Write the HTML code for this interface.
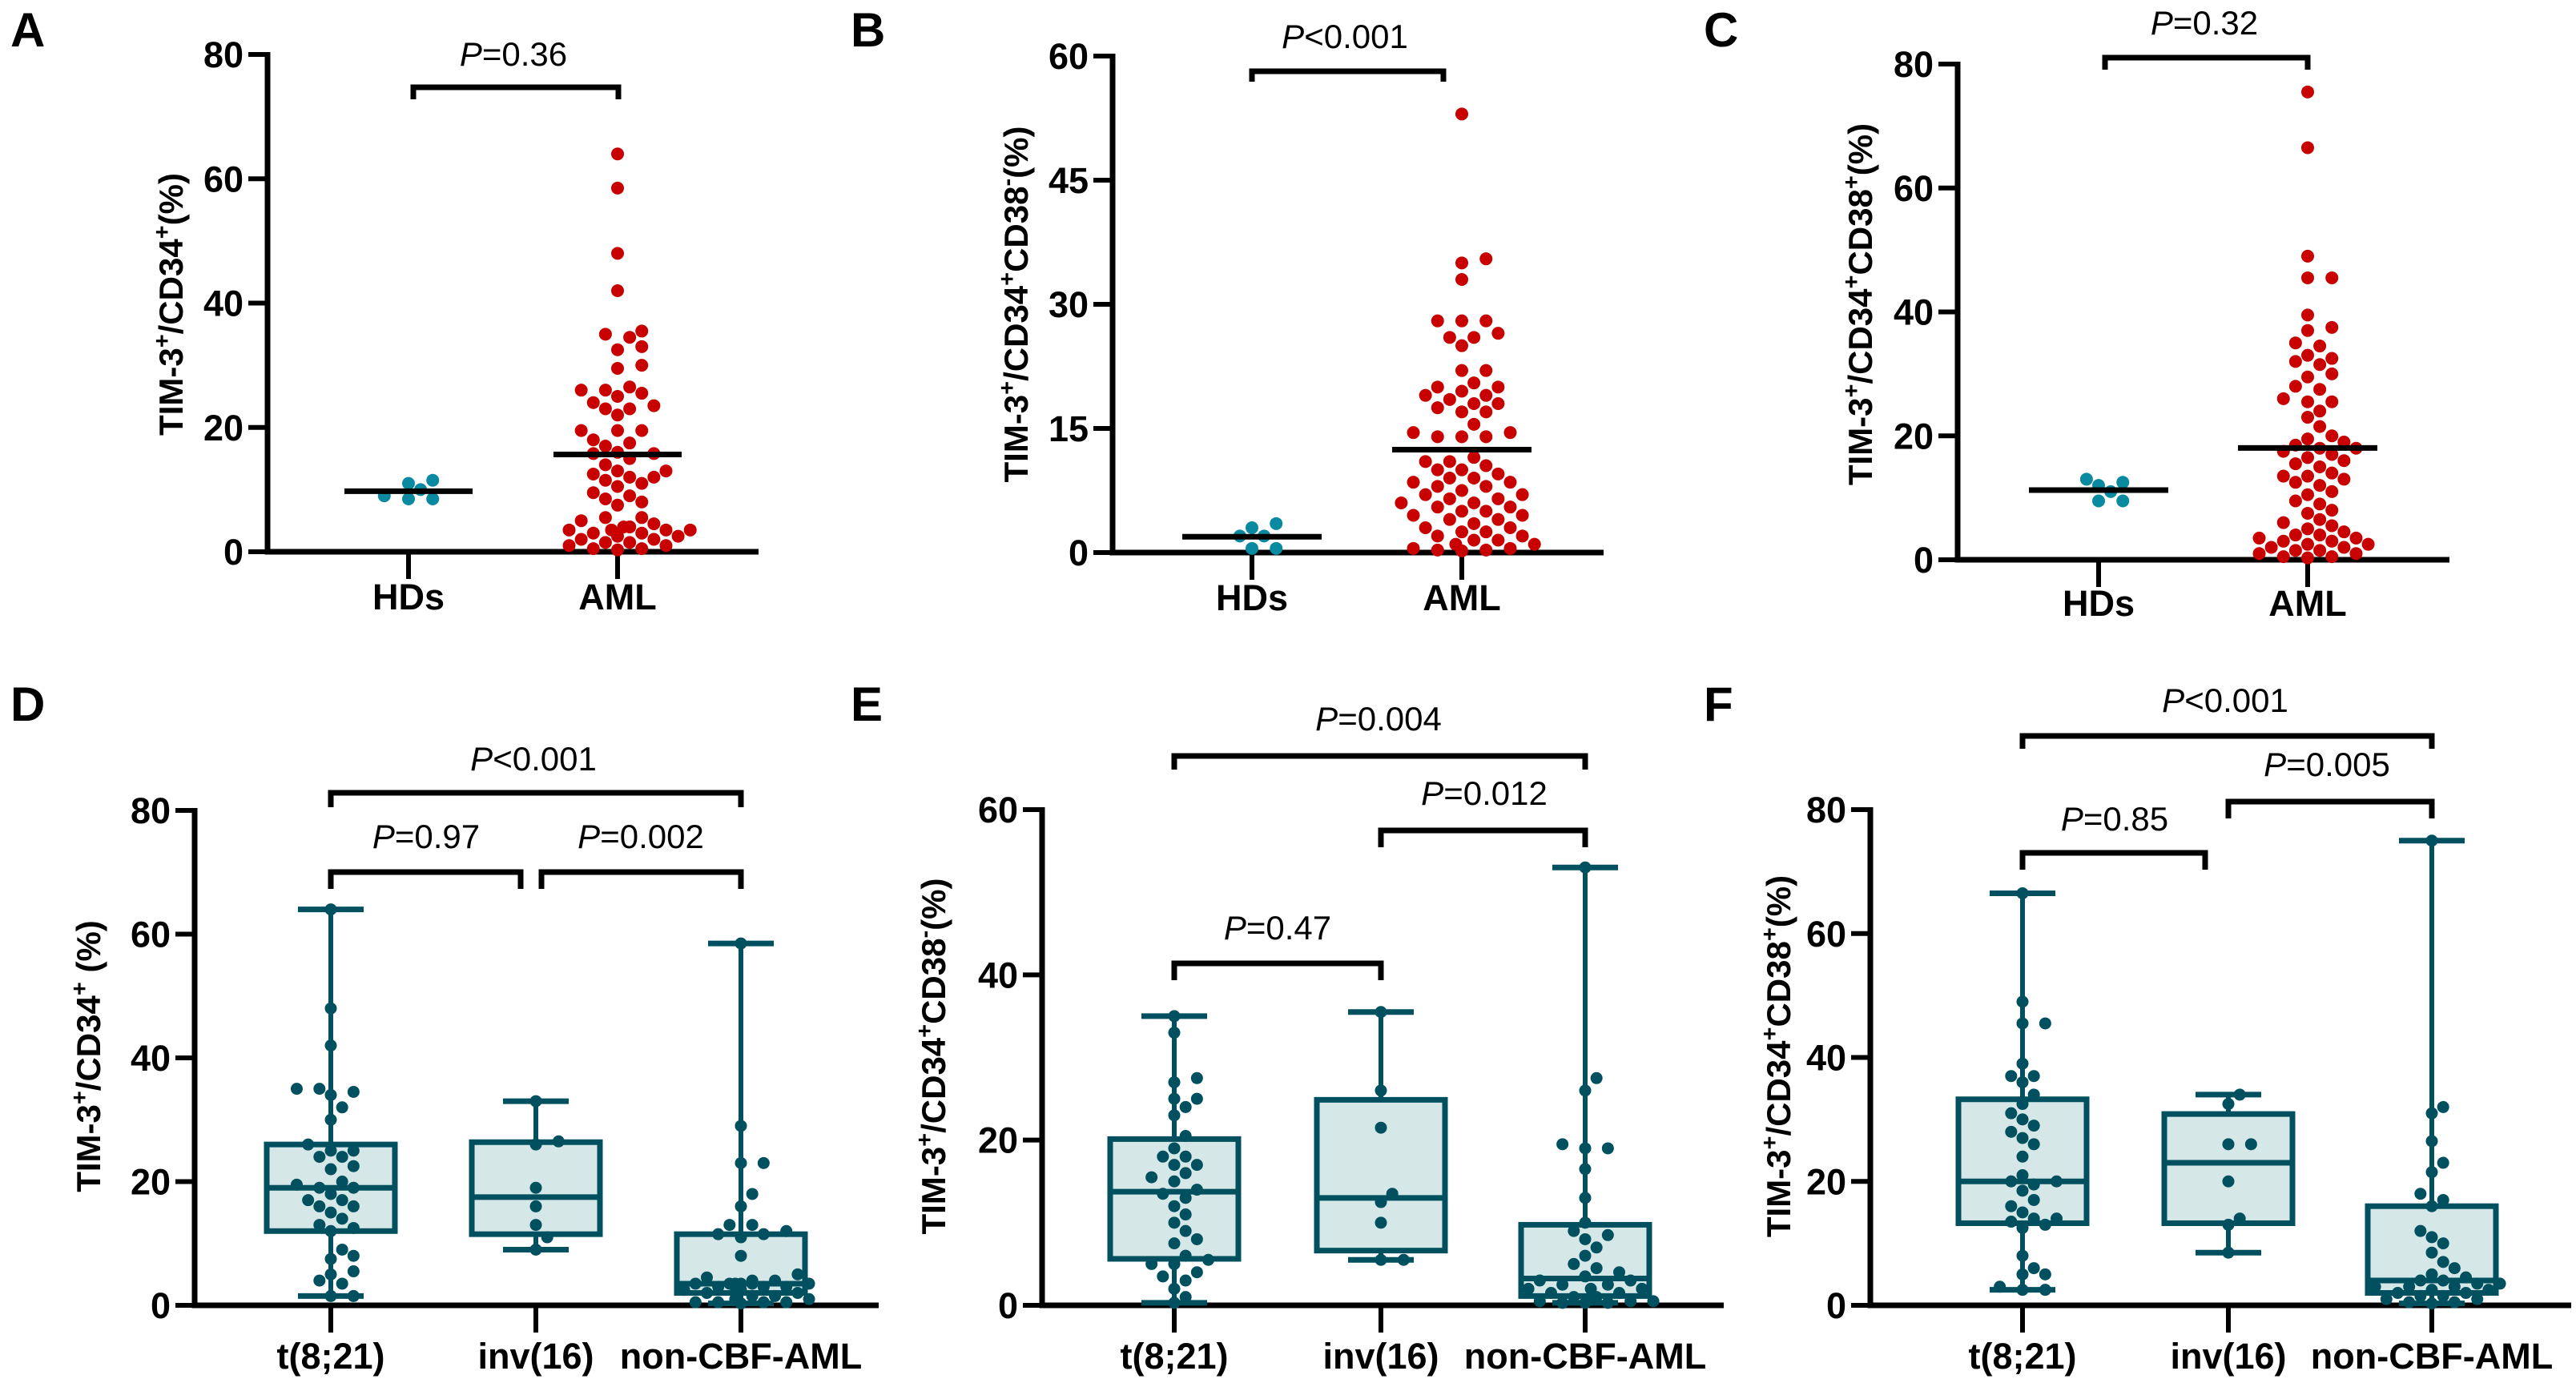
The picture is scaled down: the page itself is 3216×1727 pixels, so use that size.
<!DOCTYPE html>
<html><head><meta charset="utf-8"><style>
html,body{margin:0;padding:0;background:#fff;}
svg{display:block;font-family:"Liberation Sans",Arial,sans-serif;}
</style></head><body>
<svg id="fig" width="3216" height="1727" viewBox="0 0 3216 1727" xmlns="http://www.w3.org/2000/svg"></svg>
<script>
// ---- Data: top-row scatter panels ----
const scatterCats = ["HDs", "AML"];
const aHD = [11.5, 11, 10, 9, 8.5, 8.5];
const aAML = [64,58.5,48,42,35.5,35,34.5,33,32.5,30,29.5,26.5,26,26,25.5,25,24,23.5,23,23,22,19.5,19.5,19.5,18,17.5,17,16,15.8,15.8,15,14,13,13,12.5,12,12,11.5,11,10.5,9.5,9,8.5,8,7.5,5.5,5.5,5,4.5,4,4,4,3.5,3.5,3.5,3.5,3,3,2.5,2.5,2,2,1.5,1.5,1,1,0.5,0.5,0.3];
const bHD = [3.5, 3, 2, 2, 0.5, 0.5];
const bAML = [53,35.5,35,33,28,28,28,26.5,26,26,25,22,22,20.5,20,20,19.5,19,19,18.5,18,18,17.5,17,17,15.5,14.5,14.5,14,14,14,11.5,11,11,10.5,10,10,9.5,9,9,8.5,8.5,8,8,7.5,7,7,6.5,6.5,6,6,5.5,5.5,5,5,4.5,4.5,4,4,3.5,3,3,2.5,2.5,2,2,1.5,1.5,1,1,0.5,0.5,0.3,0.3,0.2];
const cHD = [13, 12.5, 12, 11, 9.5, 9.5];
const cAML = [75.5,66.5,49,45.5,45.5,39.5,37.5,37,35,34.5,33,32.5,32,31.5,30,29.5,28,27.5,26,25.5,25.5,24,23,21.5,20,19.5,19,18.5,18,18,17.5,17,16.5,16,15.5,15,14,13.5,13.5,13,12.5,12,11,10.5,9.5,9,8,7.5,6.5,6,5.5,5,4.5,4,4,3.5,3.5,3,3,2.5,2.5,2,2,1.5,1.5,1,1,0.5,0.5,0.3];
// ---- Data: bottom-row box panels ----
const boxCats = ["t(8;21)", "inv(16)", "non-CBF-AML"];
const dT821 = [64,48,42,35,35,34.5,34,32,30,26,25,25,24,24,22.5,22,20,19.5,19,19,18,17,17,16,16,15,14,13,12.5,12,9,8,7.5,5.5,5,4,3.5,1.5,1.5];
const dInv16 = [33,26.5,26,19,16,13,11,9];
const dNon = [58.5,29,23,23,18,16,13,13,12,11.5,11.5,11,8,5,4.5,4,4,3.5,3.5,3.5,3.5,3.5,3.5,3,3,3,3,2.5,2.5,2,2,1.5,1.5,1,1,0.5,0.5,0.5,0.5,0.3];
const eT821 = [35,33,27.5,27,25,25,24,23,20.5,19,18,18,17,17,16,15.5,15,14,13.5,13,12,11,10,9,8,7.5,6,5.5,5,5,4,3.5,3,2,1,0.3];
const eInv16 = [35.5,26,21.5,13.5,12.5,10,5.5,5.5];
const eNon = [53,27.5,26,19.5,19,19,16.5,13,10,9,8.5,8,7,6,5,4.5,4,3.5,3,3,2.5,2.5,2,2,2,1.5,1.5,1,1,1,0.5,0.5,0.5,0.3,0.3,0.3];
const fT821 = [66.5,49,45.5,45.5,39,37,37,36,34,32.5,31,30,29,28,27,26,24,21,20,20,19.5,18.5,17,16,15,14,14,13.5,13,12.5,8,6,5,5,3,2.5,2.5];
const fInv16 = [34,32.5,26,26,20,14,13,8.5];
const fNon = [75,32,31,26.5,23,21.5,18,17,16,12,11,10,8.5,7,6,5,4.5,4,4,3.5,3.5,3,3,3,2.5,2.5,2,2,1.5,1.5,1,1,0.5,0.5,0.3];
const ticks80 = [0,20,40,60,80];
const ticks60a = [0,15,30,45,60];
const ticks60b = [0,20,40,60];

const NS = "http://www.w3.org/2000/svg";
const svg = document.getElementById("fig");
function mk(tag, attrs, parent){ const e=document.createElementNS(NS,tag); for(const k in attrs) e.setAttribute(k,attrs[k]); (parent||svg).appendChild(e); return e; }

function letter(t,x,y){ const e=mk("text",{x:x,y:y,"font-size":60,"font-weight":"bold",fill:"#000"}); e.textContent=t;
 
  }

function axes(p){
 const g=mk("g",{});
 
 
 const y=v=>p.y0-(v/p.max)*(p.y0-p.yTop);
 mk("line",{x1:p.ax,y1:p.yTop-3,x2:p.ax,y2:p.y0+3.5,stroke:"#000","stroke-width":7},g);
 mk("line",{x1:p.ax-3.5,y1:p.y0,x2:p.xEnd,y2:p.y0,stroke:"#000","stroke-width":7},g);
 p.ticks.forEach(t=>{
  mk("line",{x1:p.ax-24,y1:y(t),x2:p.ax,y2:y(t),stroke:"#000","stroke-width":6},g);
  const tx=mk("text",{x:p.ax-30,y:y(t)+16,"font-size":45,"font-weight":"bold","text-anchor":"end"},g); tx.textContent=t;
  
  
 });
 p.cx.forEach((cx,i)=>{
  mk("line",{x1:cx,y1:p.y0,x2:cx,y2:p.y0+34,stroke:"#000","stroke-width":6},g);
  const tx=mk("text",{x:cx,y:p.labY,"font-size":45,"font-weight":"bold","text-anchor":"middle"},g); tx.textContent=p.cats[i];
  
  
 });
 const tt=mk("text",{transform:`translate(${p.tx},${p.ty}) rotate(-90)`,"font-size":42,"font-weight":"bold","text-anchor":"middle"},g);
 
 
 p.title.forEach(s=>{ const ts=mk("tspan",{},tt); ts.textContent=s[0]; if(s[1]){ts.setAttribute("baseline-shift","super");ts.setAttribute("font-size","29");} });
 return y;
}

function bracket(x1,x2,yb,ydrop,label,tx,ty){
 const g=mk("g",{});
 
 
 mk("polyline",{points:`${x1},${ydrop} ${x1},${yb} ${x2},${yb} ${x2},${ydrop}`,fill:"none",stroke:"#000","stroke-width":7},g);
 const t=mk("text",{x:tx,y:ty,"font-size":42,"text-anchor":"middle"},g);
 const i=mk("tspan",{"font-style":"italic"},t); i.textContent="P";
 const r=mk("tspan",{},t); r.textContent=label;
}

function swarm(vals,cx,y,r,maxHalf,sp){
 const placed=[]; const out=[];
 const d=r*sp;
 [...vals].sort((a,b)=>a-b).forEach(v=>{
  const py=y(v); let k=0, px=cx;
  for(;;){
   const off=Math.ceil(k/2)*d*0.9*(k%2?1:-1); px=cx+off;
   if(!placed.some(q=>Math.hypot(q[0]-px,q[1]-py)<d)) break;
   if(Math.abs(off)>maxHalf){ px=cx+((out.length%5)-2)*d*0.45; break; }
   k++;
  }
  placed.push([px,py]); out.push([px,py]);
 });
 return out;
}

function mean(a){return a.reduce((s,v)=>s+v,0)/a.length;}

function scatterPanel(p,groups){
 const y=axes(p);
 const colors=["#0a8aa0","#c80000"];
 groups.forEach((vals,i)=>{
  const g=mk("g",{});
  
  
  swarm(vals,p.cx[i],y,8,80,2.1).forEach(([x,yy])=>{
   const c=mk("circle",{cx:x,cy:yy,r:8,fill:colors[i]},g);
   
   
  });
  const m=mk("line",{x1:p.cx[i]-p.mw,x2:p.cx[i]+p.mw,y1:y(mean(vals)),y2:y(mean(vals)),stroke:"#000","stroke-width":7});
  
  
 });
}

function quant(a,q){ const s=[...a].sort((x,y)=>x-y); const pos=(s.length+1)*q-1; const lo=Math.max(0,Math.min(s.length-1,Math.floor(pos))); const hi=Math.min(s.length-1,lo+1); const f=Math.max(0,Math.min(1,pos-lo)); return s[lo]+(s[hi]-s[lo])*f; }

function boxPanel(p,groups){
 const y=axes(p);
 const col="#00505f";
 groups.forEach((vals,i)=>{
  const cx=p.cx[i];
  const g=mk("g",{});
  
  
  const mn=Math.min(...vals), mx=Math.max(...vals), q1=quant(vals,0.25), md=quant(vals,0.5), q3=quant(vals,0.75);
  mk("line",{x1:cx,x2:cx,y1:y(mx),y2:y(mn),stroke:col,"stroke-width":6},g);
  mk("line",{x1:cx-41,x2:cx+41,y1:y(mx),y2:y(mx),stroke:col,"stroke-width":7},g);
  mk("line",{x1:cx-41,x2:cx+41,y1:y(mn),y2:y(mn),stroke:col,"stroke-width":7},g);
  mk("rect",{x:cx-80,y:y(q3),width:160,height:y(q1)-y(q3),fill:"#d6e7e7",stroke:col,"stroke-width":7},g);
  mk("line",{x1:cx-80,x2:cx+80,y1:y(md),y2:y(md),stroke:col,"stroke-width":7},g);
  swarm(vals,cx,y,7.5,78,2.1).forEach(([x,yy])=>{
   const c=mk("circle",{cx:x,cy:yy,r:7.5,fill:col},g);
   
   
  });
 });
}

const t1=[["TIM-3"],["+",1],["/CD34"],["+",1],["(%)"]];
const t2=[["TIM-3"],["+",1],["/CD34"],["+",1],["CD38"],["-",1],["(%)"]];
const t3=[["TIM-3"],["+",1],["/CD34"],["+",1],["CD38"],["+",1],["(%)"]];
const t4=[["TIM-3"],["+",1],["/CD34"],["+",1],[" (%)"]];

letter("A",13,58); letter("B",1062,58); letter("C",2127,58);
letter("D",13,900); letter("E",1062,900); letter("F",2127,900);

scatterPanel({id:"a",ax:334,y0:689,yTop:68,max:80,xEnd:947,ticks:ticks80,cx:[510,771],cats:scatterCats,labY:761,tx:228,ty:380,title:t1,mw:80},[aHD,aAML]);
bracket(516,772,109,124,"=0.36",641,82);
scatterPanel({id:"b",ax:1389,y0:690,yTop:70,max:60,xEnd:2002,ticks:ticks60a,cx:[1563,1825],cats:scatterCats,labY:762,tx:1283,ty:380,title:t2,mw:87},[bHD,bAML]);
bracket(1563,1802,89,102,"<0.001",1679,60);
scatterPanel({id:"c",ax:2444,y0:699,yTop:80,max:80,xEnd:3058,ticks:ticks80,cx:[2620,2881],cats:scatterCats,labY:769,tx:2337,ty:380,title:t3,mw:87},[cHD,cAML]);
bracket(2628,2881,72,87,"=0.32",2752,43);

boxPanel({id:"d",ax:243,y0:1630,yTop:1012,max:80,xEnd:1097,ticks:ticks80,cx:[413,669,925],cats:boxCats,labY:1709,tx:125,ty:1319,title:t4},[dT821,dInv16,dNon]);
bracket(413,925,990,1008,"<0.001",666,962);
bracket(413,650,1089,1110,"=0.97",532,1059);
bracket(676,925,1089,1110,"=0.002",800,1059);

boxPanel({id:"e",ax:1301,y0:1630,yTop:1011,max:60,xEnd:2152,ticks:ticks60b,cx:[1466,1724,1979],cats:boxCats,labY:1709,tx:1180,ty:1319,title:t2},[eT821,eInv16,eNon]);
bracket(1466,1979,944,961,"=0.004",1721,912);
bracket(1724,1979,1037,1058,"=0.012",1853,1005);
bracket(1466,1724,1203,1224,"=0.47",1595,1173);

boxPanel({id:"f",ax:2335,y0:1630,yTop:1011,max:80,xEnd:3210,ticks:ticks80,cx:[2525,2782,3036],cats:boxCats,labY:1709,tx:2235,ty:1319,title:t3},[fT821,fInv16,fNon]);
bracket(2525,3036,919,935,"<0.001",2778,889);
bracket(2782,3036,1001,1022,"=0.005",2905,969);
bracket(2525,2753,1065,1086,"=0.85",2640,1037);
</script>
</body></html>
